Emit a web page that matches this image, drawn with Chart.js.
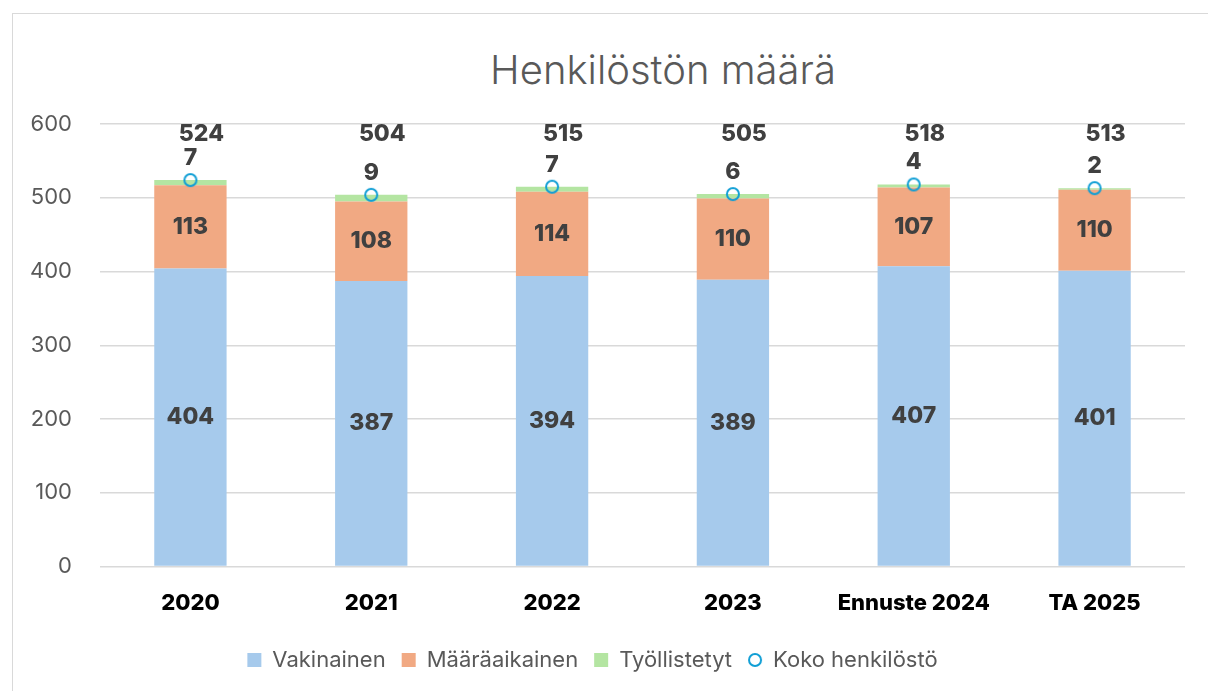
<!DOCTYPE html>
<html>
<head>
<meta charset="utf-8">
<script src="https://cdn.jsdelivr.net/npm/chart.js@4"></script>
<style>
  body { margin: 0; background: #fff; }
  #frame { position: absolute; left: 12px; top: 13px; width: 1300px; height: 800px; border: 1px solid #d9d9d9; }
  #wrap { position: absolute; left: 0; top: 0; width: 1208px; height: 691px; }
  #title { position: absolute; left: 0; width: 1326px; top: 46px; line-height: 48px; text-align: center;
           font-family: Inter, sans-serif; font-weight: 300; font-size: 40px; color: #595959; }
</style>
</head>
<body>
<div id="frame"></div>
<div id="title">Henkilöstön määrä</div>
<div id="wrap"><canvas id="myChart"></canvas></div>
<script>
const categories = ['2020', '2021', '2022', '2023', 'Ennuste 2024', 'TA 2025']
const vakinainen = [404, 387, 394, 389, 407, 401]
const maaraaikainen = [113, 108, 114, 110, 107, 110]
const tyollistetyt = [7, 9, 7, 6, 4, 2]
const koko = [524, 504, 515, 505, 518, 513]
const yTicks = [0, 100, 200, 300, 400, 500, 600]

const FONT = 'Inter'

// small hollow circle used for the total points and the legend
function ringImage(){
    const c = document.createElement('canvas')
    c.width = 16; c.height = 16
    const g = c.getContext('2d')
    g.strokeStyle = '#0F9ED5'
    g.lineWidth = 2
    g.beginPath()
    g.arc(8, 8, 6, 0, Math.PI * 2)
    g.stroke()
    return c
}
const ring = ringImage()

// data labels drawn from the dataset elements
const labelPlugin = {
    id: 'labels',
    afterDatasetsDraw(chart){
        const ctx = chart.ctx
        const yScale = chart.scales.y
        ctx.save()
        ctx.font = `800 23px ${FONT}`
        ctx.fillStyle = '#404040'
        ctx.textAlign = 'center'
        ctx.textBaseline = 'middle'
        chart.data.datasets.forEach((ds, i) => {
            const meta = chart.getDatasetMeta(i)
            meta.data.forEach((el, j) => {
                const v = ds.data[j]
                if(i < 2){
                    ctx.fillText(v, el.x, (el.y + el.base) / 2)
                } else if(i === 2){
                    ctx.fillText(v, el.x, el.y - 22)
                } else {
                    // totals sit a bit right of the bar centre, near the top
                    ctx.fillText(v, el.x + 11, yScale.getPixelForValue(586))
                }
            })
        })
        ctx.restore()
    }
}

new Chart(document.getElementById('myChart'), {
    type: 'bar',
    data: {
        labels: categories,
        datasets: [
            { label: 'Vakinainen', data: vakinainen, backgroundColor: '#A6CAEC', stack: 's', order: 1, pointStyle: 'rect' },
            { label: 'Määräaikainen', data: maaraaikainen, backgroundColor: '#F1A983', stack: 's', order: 1, pointStyle: 'rect' },
            { label: 'Työllistetyt', data: tyollistetyt, backgroundColor: '#B4E5A2', stack: 's', order: 1, pointStyle: 'rect' },
            { label: 'Koko henkilöstö', type: 'line', data: koko, stack: 'total', order: 0,
              showLine: false, pointStyle: ring, pointRadius: 6, pointHoverRadius: 6,
              borderColor: '#0F9ED5', backgroundColor: 'rgba(0,0,0,0)', borderWidth: 2 }
        ]
    },
    options: {
        responsive: true,
        maintainAspectRatio: false,
        animation: false,
        layout: { padding: { left: 0, right: 23, bottom: 10, top: 124 } },
        datasets: { bar: { barPercentage: 0.8, categoryPercentage: 0.5 } },
        scales: {
            x: {
                stacked: true,
                grid: { display: false },
                border: { display: false },
                ticks: { color: '#000', font: { family: FONT, size: 22, weight: '800' }, padding: 16 }
            },
            y: {
                stacked: true,
                min: 0, max: 600,
                afterFit(scale){ scale.width = 100 },
                afterBuildTicks(scale){ scale.ticks = yTicks.map(v => ({ value: v })) },
                grid: { color: '#d9d9d9', lineWidth: 1.5, drawTicks: false },
                border: { display: false },
                ticks: { color: '#595959', font: { family: FONT, size: 22 }, padding: 28 }
            }
        },
        plugins: {
            title: { display: false },
            legend: {
                position: 'bottom',
                labels: {
                    usePointStyle: true,
                    boxWidth: 14, boxHeight: 14,
                    color: '#595959',
                    font: { family: FONT, size: 22 },
                    padding: 16,
                    sort: (a, b) => a.datasetIndex - b.datasetIndex
                }
            },
            tooltip: { enabled: false }
        }
    },
    plugins: [labelPlugin]
})
</script>
</body>
</html>
